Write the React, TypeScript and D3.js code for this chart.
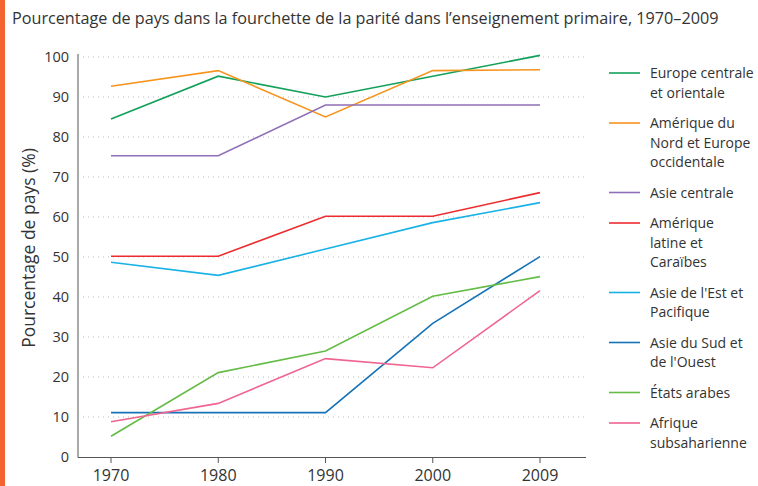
import React from "react";
import * as d3 from "d3";

const years = ["1970", "1980", "1990", "2000", "2009"];
const yTicks = [0, 10, 20, 30, 40, 50, 60, 70, 80, 90, 100];

const europeCentrale = [84.5, 95.2, 90, 95.2, 100.4];
const ameriqueNord = [92.7, 96.6, 85, 96.6, 96.8];
const asieCentrale = [75.3, 75.3, 88, 88, 88];
const ameriqueLatine = [50.2, 50.2, 60.2, 60.2, 66.1];
const asieEst = [48.7, 45.4, 52, 58.6, 63.6];
const asieSud = [11.1, 11.1, 11.1, 33.4, 50.1];
const etatsArabes = [5.2, 21.1, 26.5, 40.2, 45.1];
const afrique = [8.8, 13.4, 24.6, 22.3, 41.6];

const seriesNames = [
  ["Europe centrale", "et orientale"],
  ["Amérique du", "Nord et Europe", "occidentale"],
  ["Asie centrale"],
  ["Amérique", "latine et", "Caraïbes"],
  ["Asie de l'Est et", "Pacifique"],
  ["Asie du Sud et", "de l'Ouest"],
  ["États arabes"],
  ["Afrique", "subsaharienne"],
];
const seriesValues = [europeCentrale, ameriqueNord, asieCentrale, ameriqueLatine, asieEst, asieSud, etatsArabes, afrique];
const colors = ["#12a05a", "#f7941d", "#8e6fb8", "#ee2b2e", "#19b2e6", "#1673b6", "#64bc46", "#f06490"];

export default function App() {
  const W = 758, H = 486;
  const font = "'Open Sans', sans-serif";
  const x = d3.scalePoint<string>().domain(years).range([111, 540]);
  const y = d3.scaleLinear().domain([0, 100]).range([457, 57]);
  const line = d3.line<number>().x((_, i) => x(years[i])!).y((d) => y(d));

  let ly = 73;
  const legend = seriesNames.map((lines, i) => {
    const entry = { lines, y: ly, color: colors[i] };
    ly += lines.length * 19.5 + 11;
    return entry;
  });

  return (
    <svg width={W} height={H} style={{ position: "absolute", left: 0, top: 0, background: "#fff" }} fontFamily={font}>
      <rect x={0} y={0} width={5} height={H} fill="#f26531" />
      <text x={12} y={24} fontSize={16.2} fill="#333">
        Pourcentage de pays dans la fourchette de la parité dans l’enseignement primaire, 1970–2009
      </text>
      {yTicks.map((t) => (
        <g key={t}>
          {t > 0 && (
            <line x1={83} x2={584} y1={y(t)} y2={y(t)} stroke="#bbb" strokeWidth={1} strokeDasharray="1,4" />
          )}
          <text x={69} y={y(t) + 5} fontSize={14.5} textAnchor="end" fill="#333">{t}</text>
        </g>
      ))}
      <line x1={78} x2={78} y1={54} y2={457.5} stroke="#555" strokeWidth={1} />
      <line x1={78} x2={586} y1={457.5} y2={457.5} stroke="#555" strokeWidth={1} />
      {years.map((yr) => (
        <g key={yr}>
          <line x1={x(yr)} x2={x(yr)} y1={457.5} y2={463} stroke="#555" strokeWidth={1} />
          <text x={x(yr)} y={481} fontSize={16} textAnchor="middle" fill="#333">{yr}</text>
        </g>
      ))}
      <text transform={`translate(35,248) rotate(-90)`} fontSize={17.5} textAnchor="middle" fill="#333">
        Pourcentage de pays (%)
      </text>
      {seriesValues.map((vals, i) => (
        <path key={i} d={line(vals)!} fill="none" stroke={colors[i]} strokeWidth={1.6} />
      ))}
      {legend.map((e, i) => (
        <g key={i}>
          <line x1={609} x2={640} y1={e.y} y2={e.y} stroke={e.color} strokeWidth={1.6} />
          {e.lines.map((l, j) => (
            <text key={j} x={650} y={e.y + 5 + j * 19.5} fontSize={14} fill="#333">{l}</text>
          ))}
        </g>
      ))}
    </svg>
  );
}
